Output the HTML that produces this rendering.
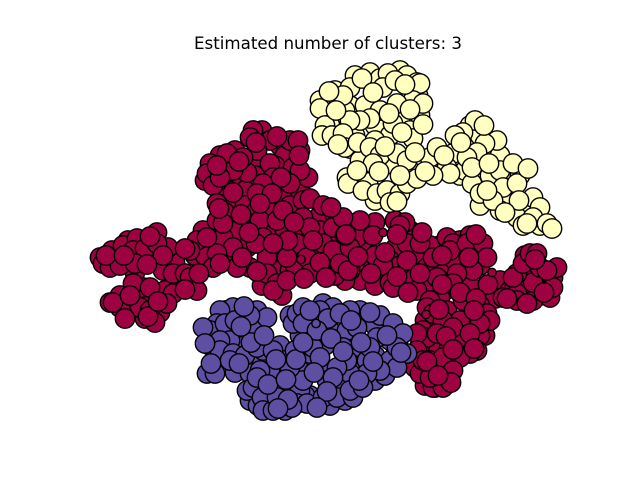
<!DOCTYPE html>
<html>
<head>
<meta charset="utf-8">
<title>Estimated number of clusters: 3</title>
<style>
html,body{margin:0;padding:0;background:#fff;width:640px;height:480px;overflow:hidden}
svg{display:block}
</style>
</head>
<body>
<svg id="chart" width="640" height="480" viewBox="0 0 640 480" xmlns="http://www.w3.org/2000/svg">
<text x="328" y="49" text-anchor="middle" font-family="'DejaVu Sans',sans-serif" font-size="16.67" fill="#000">Estimated number of clusters: 3</text>
<g id="marks"></g>
</svg>
<script>
const redInnerX = [-2.16,-2.00,-1.83,-1.78,-1.93,-1.53,-2.08,-1.88,-1.63,-1.48,-2.00,-1.83,-1.68,-2.22,-2.13,
-.66,-.48,-.68,-.43,-.28,-.53,-.73,-.88,-1.03,-1.08,-.93,-1.23,-1.16,-1.00,-.83,-.63,-.43,-.28,
-.98,-.83,-.88,-1.03,-.73,-.58,-.38,-.58,-.43,-.78,-1.18,-1.33,-1.23,-1.03,-.93,-.53,-.28,-.08,.07,-.08,.17,.07,-.28,-.13,-.48,-.38,-.66,-.46,-.33,.02,.17,.37,.37,.47,.67,.62,.32,.17,.07,.57,.47,.82,.72,.87,.67,.82,.47,
1.12,1.02,1.32,1.42,1.12,1.27,1.42,1.52,1.72,1.82,1.67,1.02,1.17,1.42,1.52,1.42,.97,1.12,1.02,1.32,1.57,1.47,.92,1.02,1.12,1.17,.97,1.07,1.22,2.02,1.97,2.17,2.12,1.87,1.97,1.52];
const redInnerY = [-.08,.02,.02,-.16,-.30,-.20,-.53,-.54,-.48,-.40,-.68,-.76,-.70,-.20,-.16,
1.12,.97,.82,.87,.92,.77,.67,.62,.77,.87,.92,.62,.70,.52,.52,.47,.47,.52,
.37,.37,.20,.30,.30,.37,.37,.12,.12,.02,-.03,-.13,-.13,-.16,-.18,-.08,.12,.27,.27,.12,.17,.02,-.18,-.13,-.28,-.28,-.43,-.53,-.23,-.18,-.08,-.03,-.23,-.13,-.06,-.18,-.38,-.38,-.33,-.33,-.43,-.33,-.23,-.13,.22,.12,.20,
-.03,-.03,.02,.07,-.23,-.18,-.20,-.23,-.38,-.48,-.56,-.43,-.48,-.43,-.63,-.78,-.78,-1.03,-1.03,-.98,-.93,-.98,-1.03,-1.18,-1.28,-1.43,-1.43,-1.45,-1.33,-.28,-.43,-.38,-.53,-.43,-.13,-.93];

const redCoreX = [-2.28,-2.25,-2.18,-2.08,-2.05,-1.91,-1.71,-1.60,-1.95,-1.83,-1.71,-1.93,-1.65,-1.55,-1.43,-1.38,-1.31,-1.55,-1.61,-1.85,-1.95,-2.18,-2.08,-1.88,-1.78,-2.15,-2.03,-1.73,-1.80,
-.75,-.78,-.58,-.38,-.30,-.71,-.58,-.35,-.20,-.28,-.55,-.38,-.65,-1.01,-1.18,-1.21,-1.15,-.81,-.95,-.85,-1.08,-.71,-1.11,
-1.25,-1.31,-1.38,-1.43,-1.11,-.91,-1.05,-.68,-.51,-.65,-.81,-.95,-1.11,-.25,-.18,-.05,-.25,-.18,.05,-.31,-.05,.05,.25,-.21,-.41,-.61,-.78,-.61,-.51,-.55,-.41,-.91,-1.15,-.18,.12,.29,.32,.15,
.45,.22,.22,.55,.79,.92,.77,.72,.62,.65,.89,.79,.99,1.05,1.19,1.25,1.22,1.39,1.55,1.59,1.45,1.29,1.09,.92,1.25,1.12,1.02,.99,1.05,1.19,1.35,1.59,1.62,1.52,1.32,1.15,.95,.99,1.25,1.09,.89,.89,1.49,1.42,1.32,1.15,.87,.92,1.05,1.15,1.02,1.25,.95,1.89,1.89,2.05,2.22,2.25,2.29,2.25,2.05,1.89,1.85,1.95,2.02,2.09,2.12,2.19,1.75,1.99,
-2.22,-2.04,-1.78,-1.65,-1.81,-1.29,-1.43,-1.78,-1.98,-1.70,-1.21,-1.08,-.86,-.71,-.72,-1.05,-.87,-1.09,-.95,-1.11,-.89,-.72,-.51,-.29,-.47,-.56,-.68,-.45,-.34,-.40,-.15,.03,.17,-.08,-.24,-.02,.20,-.55,-.79,.18,.30,.57,.43,.69,.94,.69,.80,1.14,1.48,1.41,2.07,1.79,2.16,1.60,1.32,1.14,1.48,1.46,1.11,1.42,1.18,1.46,1.25,.99,1.23,1.10];
const redCoreY = [-.15,-.21,-.25,-.23,-.03,.04,.10,-.05,-.08,-.06,-.01,-.21,-.28,-.31,-.31,-.35,-.48,-.51,-.61,-.45,-.41,-.60,-.65,-.65,-.68,-.60,-.76,-.80,-.74,
1.12,1.05,1.02,1.02,1.02,.92,.79,.75,.65,.72,.65,.59,.59,.89,.79,.69,.57,.70,.72,.85,.65,.49,.39,
.12,.02,-.08,-.06,.22,.12,.05,.22,.22,.05,-.05,-.05,-.11,.42,.44,.37,.25,.15,.15,-.01,-.01,-.08,-.15,-.15,-.15,-.15,-.25,-.31,-.41,-.48,-.38,-.25,-.25,-.31,-.21,.05,.22,.25,
.07,-.05,-.28,-.23,-.01,-.01,.20,.17,-.40,-.45,-.48,-.18,-.25,-.15,.05,-.01,-.08,-.01,-.01,-.15,-.28,-.31,-.35,-.31,-.41,-.55,-.58,-.65,-.71,-.68,-.58,-.71,-.78,-.81,-.78,-.78,-.88,-.95,-.85,-.91,-.91,-1.08,-1.08,-1.11,-1.15,-1.15,-1.25,-1.31,-1.45,-1.45,-1.35,-1.28,-1.18,-.51,-.58,-.58,-.55,-.35,-.25,-.45,-.40,-.31,-.35,-.21,-.11,-.11,-.25,-.28,-.55,-.61,
-.13,-.13,.06,-.13,-.22,-.31,-.47,-.45,-.53,-.59,.05,-.21,-.15,-.29,-.01,.19,.28,.34,.50,.77,.81,1.00,1.06,.87,.65,.49,.39,.32,.20,.02,.02,.35,.07,-.20,-.36,-.35,-.28,-.01,.10,.08,-.14,-.10,-.31,.08,.10,-.34,-.50,-.13,.08,-.15,-.17,-.56,-.50,-.42,-.50,-.42,-.56,-.68,-.67,-.91,-.94,-1.06,-1.07,-1.19,-1.40,-1.33];
const redEdgeX = [-.27,.98,1.64,.55];
const redEdgeY = [-.17,-.72,-.30,.10];

const yellowInnerX = [.27,.42,.52,.72,.87,.90,.92,.72,.47,.22,.37,.07,.02,.22,.27,.37,.32,.62,.67,.82,1.12,1.27,1.37,1.42,1.52,1.72,1.82,1.92,1.62,1.77,1.97,2.12,.22,.47,.82,.17,1.32,1.37,1.52,1.72];
const yellowInnerY = [1.67,1.70,1.64,1.72,1.50,1.47,1.27,1.22,1.17,1.37,1.37,1.52,1.17,.94,1.07,.87,.82,1.07,.77,.72,.72,.77,.97,1.17,1.07,.87,.62,.67,.67,.42,.37,.17,.62,.42,1.12,1.32,.67,.72,.37,.32];

const yellowCoreX = [.60,.79,.89,.22,.15,-.08,-.08,.55,.67,.92,.85,.95,.69,.52,.42,.32,.22,-.03,-.06,.04,.15,.17,.30,.47,.85,.65,.42,.52,.69,.79,1.02,1.09,1.25,1.19,1.22,1.05,.45,.40,.19,.20,.35,.49,.59,.72,.62,.79,.89,1.47,1.35,1.27,1.69,1.57,1.49,1.39,1.72,1.85,1.44,1.52,1.75,1.65,1.89,2.05,2.12,1.89,2.05,2.19,1.95,
.01,.08,.34,.45,.77,.61,.82,.95,.74,.10,.57,.87,1.16,.97,.72,.51,.29,.69,1.33,1.56,1.44,1.61,2.00,1.59,1.91,1.77,1.99,2.24];
const yellowCoreY = [1.69,1.67,1.60,1.55,1.47,1.42,1.34,1.55,1.62,1.59,1.42,1.39,1.39,1.32,1.24,1.22,1.22,1.17,1.07,1.07,1.09,.95,1.00,1.02,1.04,1.19,.95,.87,.89,.82,.85,.95,.89,.75,.69,.67,.79,.60,.65,.59,.52,.49,.52,.49,.40,.59,.64,1.22,1.10,1.07,1.02,.99,.90,.85,.72,.79,.59,.49,.55,.42,.59,.45,.35,.25,.25,.19,.17,
1.51,1.32,1.64,1.50,1.58,1.29,1.33,1.18,1.10,.98,.96,.90,.87,.71,.67,.71,.72,.41,1.00,1.17,.75,.79,.74,.52,.42,.30,.19,.14];

const purpleInnerX = [-.88,-1.18,-1.13,-.93,-.78,-.73,-1.03,-.83,-.66,-.48,-.58,-.48,-.78,-.70,-.38,-.18,.02,.17,-.28,-.43,-.08,.12,.47,.57,.67,.70,.62,.32,.47,.22,-.18,-.28,-.38,.02,.17,.32,.47,.27,-.03,-.33,-.23,-.43,-.60];
const purpleInnerY = [-.93,-1.03,-1.23,-1.30,-.88,-.83,-.68,-1.03,-1.18,-1.03,-1.28,-1.48,-1.58,-1.63,-1.43,-1.53,-1.63,-1.58,-1.28,-1.18,-1.28,-1.43,-1.38,-1.33,-1.13,-.98,-.98,-.68,-.83,-.68,-.78,-.93,-.73,-.88,-.98,-1.13,-1.13,-1.23,-1.03,-1.08,-1.53,-1.68,-1.60];

const purpleCoreX = [-.95,-1.08,-.71,-.61,-1.11,-1.18,-1.03,-.93,-.78,-1.25,-.98,-1.08,-1.08,-.95,-.83,-.65,-.71,-1.21,-1.13,-.98,-.78,-.68,-.55,-.81,-.75,-.71,-.66,-.65,-.55,-.51,-.28,-.31,-.21,-.05,.09,.25,-.01,-.25,-.38,-.18,-.15,-.08,-.35,-.31,-.25,-.05,.05,-.08,0,-.25,-.11,.19,.12,.29,.52,.65,.75,.79,.62,.69,.52,.39,.39,.22,.19,.09,.05,.22,.35,.15,.49,.42,.69,
-1.23,-1.17,-.89,-.77,-.87,-.84,-.64,-.52,-.32,-.60,-.42,-.25,-.18,-.14,.03,.23,.42,.33,.59,.73,.45,.15,.31,-.01,-.11,-.36,-.40,-.50];
const purpleCoreY = [-.65,-.68,-.68,-.75,-.81,-.88,-.81,-.78,-.73,-.85,-.98,-.98,-1.08,-1.11,-1.13,-1.08,-1.05,-1.31,-1.31,-1.18,-1.31,-1.28,-1.08,-1.48,-1.45,-1.35,-1.55,-1.68,-1.68,-1.55,-1.48,-1.61,-1.61,-1.55,-1.55,-1.55,-1.38,-1.38,-1.25,-1.11,-1.05,-1.15,-.81,-.71,-.65,-.61,-.65,-.68,-.76,-.81,-.88,-.88,-.71,-.85,-.73,-.81,-.91,-1.11,-1.18,-1.25,-1.28,-1.18,-1.31,-1.31,-1.18,-1.25,-1.35,-1.48,-1.45,-1.05,-.95,-1.05,-1.05,
-1.01,-1.21,-1.21,-1.00,-.84,-.64,-.93,-1.17,-1.17,-1.42,-1.37,-1.00,-.68,-1.30,-.96,-.78,-.70,-1.00,-.93,-1.10,-1.19,-1.09,-1.38,-1.49,-1.65,-1.65,-1.57,-1.66];
const purpleEdgeX = [-.12];
const purpleEdgeY = [-.81];

const xMin = -2.48, xMax = 2.48, yMin = -1.845, yMax = 1.845;
const plotLeft = 80, plotRight = 576, plotTop = 58, plotBottom = 427;
function xAxis(v) { return plotLeft + (v - xMin) / (xMax - xMin) * (plotRight - plotLeft); }
function yAxis(v) { return plotBottom - (v - yMin) / (yMax - yMin) * (plotBottom - plotTop); }

const NS = 'http://www.w3.org/2000/svg';
const marks = document.getElementById('marks');
function drawPoints(xs, ys, color, radius, label) {
  for (let i = 0; i < xs.length; i++) {
    const el = document.createElementNS(NS, 'circle');
    el.setAttribute('cx', xAxis(xs[i]));
    el.setAttribute('cy', yAxis(ys[i]));
    el.setAttribute('r', radius);
    el.setAttribute('fill', color);
    el.setAttribute('stroke', '#000');
    el.setAttribute('stroke-width', 1.4);
    
    
    marks.appendChild(el);
  }
}
drawPoints(redInnerX, redInnerY, '#9e0142', 9.7, 'red-cluster-core-point');
drawPoints(redCoreX, redCoreY, '#9e0142', 9.7, 'red-cluster-core-point');
drawPoints(redEdgeX, redEdgeY, '#9e0142', 4.2, 'red-cluster-edge-point');
drawPoints(yellowInnerX, yellowInnerY, '#ffffbf', 9.7, 'yellow-cluster-core-point');
drawPoints(yellowCoreX, yellowCoreY, '#ffffbf', 9.7, 'yellow-cluster-core-point');
drawPoints(purpleInnerX, purpleInnerY, '#5e4fa2', 9.7, 'purple-cluster-core-point');
drawPoints(purpleCoreX, purpleCoreY, '#5e4fa2', 9.7, 'purple-cluster-core-point');
drawPoints(purpleEdgeX, purpleEdgeY, '#5e4fa2', 4.2, 'purple-cluster-edge-point');
</script>
</body>
</html>
